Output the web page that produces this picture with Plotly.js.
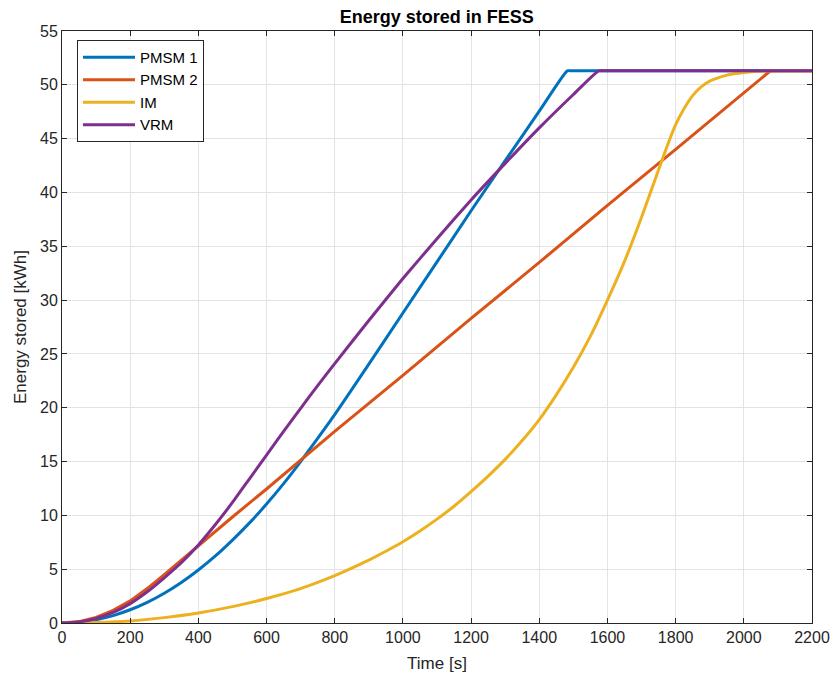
<!DOCTYPE html>
<html>
<head>
<meta charset="utf-8">
<script src="https://cdn.plot.ly/plotly-3.0.1.min.js"></script>
<style>
html,body{margin:0;padding:0;background:#fff;}
#chart{width:832px;height:677px;}
</style>
</head>
<body>
<div id="chart"></div>
<script>
// Series names
const seriesNames = ["PMSM 1", "PMSM 2", "IM", "VRM"];

// PMSM 1 (time [s], energy [kWh])
const pmsm1Time = [0,50,100,150,200,250,300,350,400,450,500,550,600,650,700,750,800,900,1000,1100,1200,1300,1400,1482,1495,1700,2200];
const pmsm1Energy = [0,0.08,0.31,0.69,1.23,1.92,2.77,3.77,4.93,6.23,7.7,9.3,11.05,12.95,15.0,17.15,19.35,24.05,28.8,33.55,38.3,42.95,47.55,51.3,51.3,51.3,51.3];

// PMSM 2
const pmsm2Time = [0,50,100,150,200,250,300,400,500,600,700,800,1000,1200,1400,1600,1800,2000,2078,2200];
const pmsm2Energy = [0,0.13,0.52,1.17,2.05,3.2,4.5,7.2,9.85,12.45,15.1,17.8,23.0,28.3,33.5,38.8,44.0,49.3,51.3,51.3];

// IM
const imTime = [0,100,200,300,400,500,600,700,750,800,850,900,950,1000,1050,1100,1150,1200,1250,1300,1350,1400,1450,1500,1550,1600,1650,1700,1725,1750,1775,1800,1825,1850,1875,1900,1950,2000,2050,2100,2200];
const imEnergy = [0,0.05,0.19,0.5,0.93,1.52,2.27,3.2,3.77,4.4,5.1,5.85,6.67,7.55,8.55,9.65,10.85,12.2,13.65,15.2,16.95,18.9,21.2,23.75,26.65,30.0,33.6,37.7,39.9,42.1,44.3,46.3,47.8,49.0,49.8,50.35,50.9,51.15,51.27,51.3,51.3];

// VRM
const vrmTime = [0,50,100,150,200,250,300,350,400,450,500,550,600,650,700,750,800,900,1000,1100,1200,1300,1400,1500,1574,1590,1800,2200];
const vrmEnergy = [0,0.1,0.42,0.98,1.8,2.9,4.2,5.6,7.25,9.15,11.2,13.4,15.6,17.8,19.95,22.05,24.1,28.1,32.0,35.7,39.3,42.7,46.0,49.1,51.3,51.3,51.3,51.3];

// Axis ticks
const xTicks = [0,200,400,600,800,1000,1200,1400,1600,1800,2000,2200];
const yTicks = [0,5,10,15,20,25,30,35,40,45,50,55];

const colors = ["#0072BD", "#D95319", "#EDB120", "#7E2F8E"];
const shapes = ["spline", "linear", "spline", "spline"];
const xs = [pmsm1Time, pmsm2Time, imTime, vrmTime];
const ys = [pmsm1Energy, pmsm2Energy, imEnergy, vrmEnergy];

const traces = seriesNames.map((n, i) => ({
  type: "scatter", mode: "lines", name: n,
  x: xs[i], y: ys[i],
  line: {color: colors[i], width: 3, shape: shapes[i], smoothing: 0.5}
}));

const fam = "Liberation Sans, Arial, sans-serif";
const axisCommon = {
  showline: true, mirror: "ticks", linecolor: "#262626", linewidth: 1,
  ticks: "inside", ticklen: 5, tickcolor: "#262626", tickwidth: 1,
  showgrid: true, gridcolor: "#e3e3e3", gridwidth: 1,
  zeroline: false, tickfont: {size: 16, family: fam, color: "#262626"}
};

const layout = {
  width: 832, height: 677,
  margin: {l: 62, r: 20, t: 31, b: 54},
  paper_bgcolor: "#ffffff", plot_bgcolor: "#ffffff",
  font: {family: fam, color: "#262626"},
  title: {text: "<b>Energy stored in FESS</b>", font: {size: 18, family: fam, color: "#000"},
          x: 0.525, xanchor: "center", y: 0.976, yanchor: "middle"},
  xaxis: Object.assign({}, axisCommon, {
    range: [0, 2200], tickvals: xTicks, ticktext: xTicks.map(String),
    title: {text: "Time [s]", font: {size: 17, family: fam, color: "#262626"}, standoff: 11}
  }),
  yaxis: Object.assign({}, axisCommon, {
    range: [0, 55], tickvals: yTicks, ticktext: yTicks.map(String),
    title: {text: "Energy stored [kWh]", font: {size: 17, family: fam, color: "#262626"}, standoff: 9}
  }),
  legend: {
    x: 0.02, y: 0.985, xanchor: "left", yanchor: "top",
    bgcolor: "#ffffff", bordercolor: "#262626", borderwidth: 1,
    font: {size: 15, family: fam, color: "#000"},
    itemwidth: 52, tracegroupgap: 0
  },
  showlegend: true
};

Plotly.newPlot("chart", traces, layout, {displayModeBar: false, staticPlot: true});
</script>
</body>
</html>
